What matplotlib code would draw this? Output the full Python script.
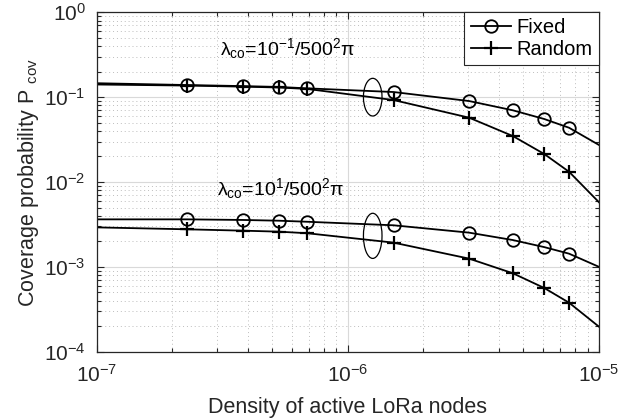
import numpy as np
import matplotlib
matplotlib.use("Agg")
import matplotlib.pyplot as plt
from matplotlib.patches import Ellipse
from matplotlib.ticker import LogLocator, NullFormatter

plt.rcParams['font.family'] = ['Liberation Sans', 'DejaVu Sans']
plt.rcParams['mathtext.fontset'] = 'custom'
plt.rcParams['mathtext.rm'] = 'Liberation Sans'
plt.rcParams['mathtext.it'] = 'Liberation Sans:italic'
plt.rcParams['mathtext.bf'] = 'Liberation Sans:bold'
plt.rcParams['axes.unicode_minus'] = False

# density of active LoRa nodes: curve ends and marker positions
x_line = [1e-7, 2.29e-7, 3.83e-7, 5.3e-7, 6.9e-7, 1.52e-6, 3.04e-6, 4.54e-6, 6.05e-6, 7.6e-6, 1e-5]

# lambda_co = 10^-1 / 500^2 pi
fixed_hi = [0.146, 0.139, 0.135, 0.132, 0.127, 0.115, 0.090, 0.070, 0.0553, 0.0436, 0.0273]
random_hi = [0.141, 0.137, 0.133, 0.130, 0.125, 0.0925, 0.0573, 0.0348, 0.0214, 0.0132, 0.00577]

# lambda_co = 10^1 / 500^2 pi
fixed_lo = [0.00363, 0.00363, 0.00357, 0.00350, 0.00340, 0.00309, 0.00253, 0.00207, 0.00171, 0.00143, 0.00100]
random_lo = [0.00292, 0.00277, 0.00267, 0.00260, 0.00249, 0.00193, 0.00125, 0.00084, 0.000564, 0.000378, 0.000197]

labels = ['Fixed', 'Random']
notes = [r'$\mathrm{\lambda}_{\mathrm{co}}$=10$^{-1}$/500$^{2}$$\mathrm{\pi}$',
         r'$\mathrm{\lambda}_{\mathrm{co}}$=10$^{1}$/500$^{2}$$\mathrm{\pi}$']
note_xy = [(3.1e-7, 0.314), (3.0e-7, 0.00703)]
ellipse_xy = [(1.256e-6, 0.1), (1.256e-6, 0.00232)]
ellipse_h = [0.111, 0.133]

gray = '#262626'
fs = 15

fig = plt.figure(figsize=(6.33, 4.19), dpi=100)
ax = fig.add_axes([0.1528, 0.1606, 0.7935, 0.81])

marks = list(range(1, len(x_line) - 1))
style_fixed = dict(color='k', lw=1.3, marker='o', ms=9, mfc='none', mec='k', mew=1.3, markevery=marks)
style_random = dict(color='k', lw=1.3, marker='+', ms=10, mec='k', mew=1.6, markevery=marks)

ax.plot(x_line, fixed_hi, label=labels[0], **style_fixed)
ax.plot(x_line, random_hi, label=labels[1], **style_random)
ax.plot(x_line, fixed_lo, **style_fixed)
ax.plot(x_line, random_lo, **style_random)

ax.set_xscale('log')
ax.set_yscale('log')
ax.set_xlim(1e-7, 1e-5)
ax.set_ylim(1e-4, 1e0)

ax.xaxis.set_major_locator(LogLocator(base=10, numticks=10))
ax.yaxis.set_major_locator(LogLocator(base=10, numticks=10))
ax.xaxis.set_minor_locator(LogLocator(base=10, subs=np.arange(2, 10), numticks=20))
ax.yaxis.set_minor_locator(LogLocator(base=10, subs=np.arange(2, 10), numticks=20))
ax.xaxis.set_minor_formatter(NullFormatter())
ax.yaxis.set_minor_formatter(NullFormatter())

ax.grid(True, which='major', color='#d9d9d9', lw=0.8, ls='-')
ax.grid(True, which='minor', color='#bdbdbd', lw=0.7, ls=(0, (1, 3)))
ax.set_axisbelow(True)

ax.tick_params(which='both', direction='in', top=True, right=True, colors=gray,
               labelsize=fs, width=0.8)
ax.tick_params(which='major', length=5)
ax.tick_params(axis='y', which='major', pad=8)
ax.tick_params(axis='x', which='major', pad=9)
ax.tick_params(which='minor', length=3)
for sp in ax.spines.values():
    sp.set_color(gray)
    sp.set_linewidth(0.9)

ax.set_xlabel('Density of active LoRa nodes', fontsize=15.5, color=gray, labelpad=8)
ax.set_ylabel(r'Coverage probability P $_{\mathrm{cov}}$', fontsize=15.5, color=gray, labelpad=2)

for txt, (tx, ty) in zip(notes, note_xy):
    ax.text(tx, ty, txt, fontsize=14, color='k', va='baseline', ha='left')

for (ex, ey), eh in zip(ellipse_xy, ellipse_h):
    cx, cy = ax.transAxes.inverted().transform(ax.transData.transform((ex, ey)))
    ax.add_patch(Ellipse((cx, cy), 0.037, eh, transform=ax.transAxes,
                         fill=False, ec='k', lw=0.9))

leg = ax.legend(loc='upper right', fontsize=14.5, frameon=True, fancybox=False,
                edgecolor=gray, framealpha=1, borderaxespad=0, handlelength=2.0,
                handletextpad=0.3, borderpad=0.3, labelspacing=0.15)
leg.get_frame().set_linewidth(0.8)

fig.savefig('out.png', dpi=100)
